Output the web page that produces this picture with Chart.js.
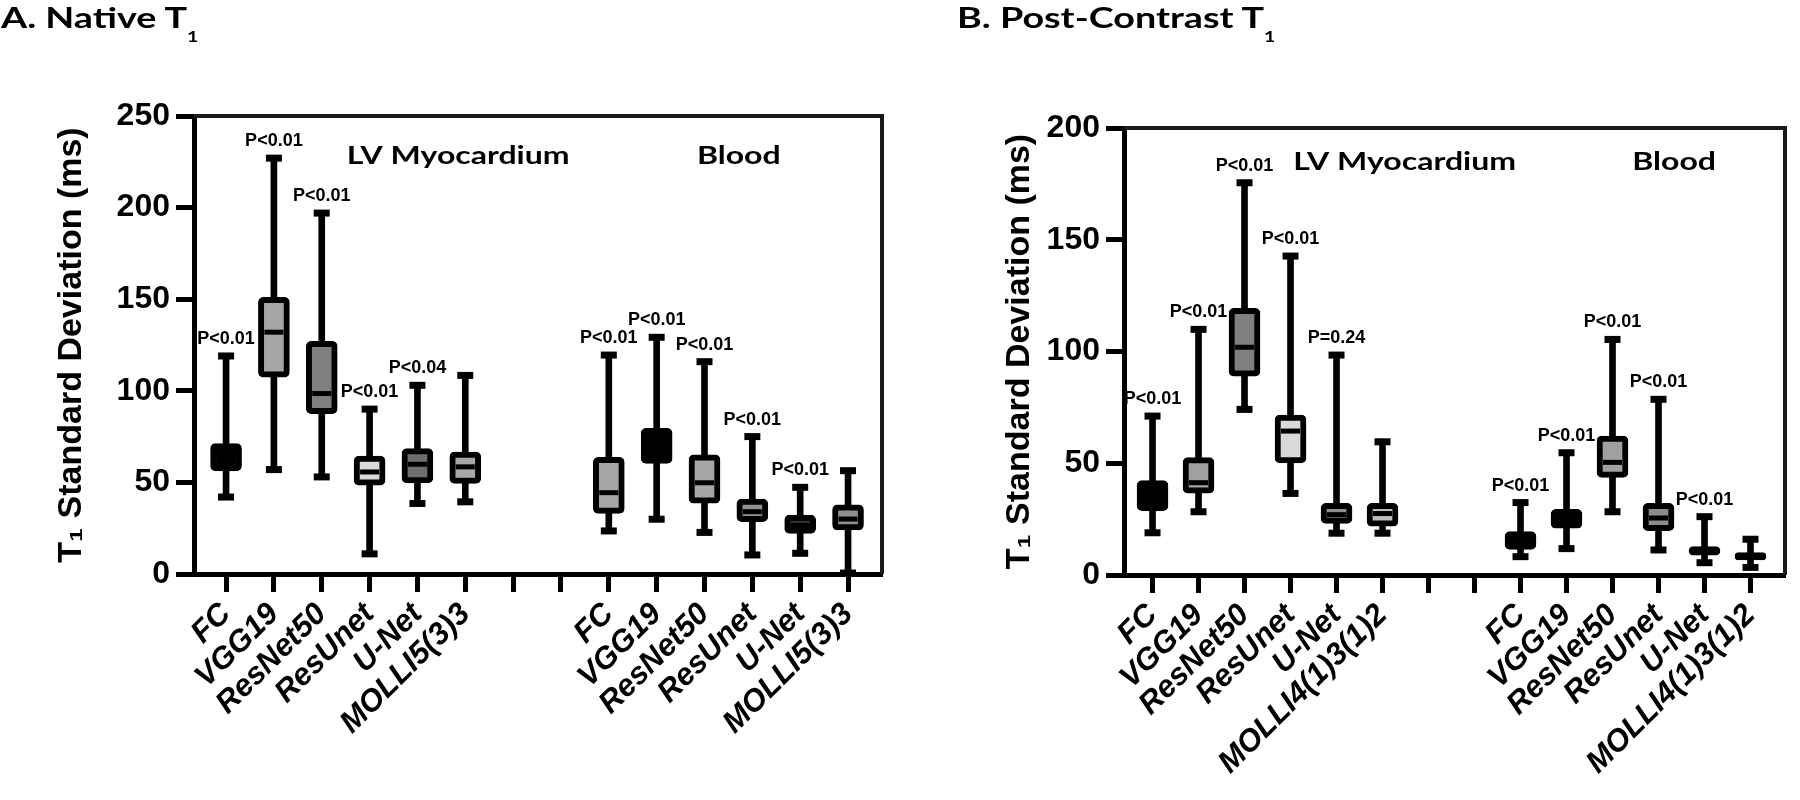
<!DOCTYPE html>
<html>
<head>
<meta charset="utf-8">
<script src="https://cdn.jsdelivr.net/npm/chart.js@4.4.1/dist/chart.umd.min.js"></script>
<style>
  body { margin: 0; background: #fff; }
  #page { position: relative; width: 1800px; height: 800px; overflow: hidden; background: #fff; }
  .panel { position: absolute; top: 0; width: 900px; height: 800px; }
  .ttl { position: absolute; top: 2px; font: bold 29px Lato, "Open Sans", sans-serif; line-height: 1;
         transform: scaleX(1.3); transform-origin: 0 0; white-space: nowrap; color: #000; }
  .ttl sub { font-size: 15px; vertical-align: -14px; }
</style>
</head>
<body>
<div id="page">
  <div class="panel" style="left:0"><canvas id="native" width="900" height="800"></canvas></div>
  <div class="panel" style="left:900px"><canvas id="post" width="900" height="800"></canvas></div>
  <div class="ttl" style="left:1px">A. Native T<sub>1</sub></div>
  <div class="ttl" style="left:957px">B. Post-Contrast T<sub>1</sub></div>
</div>
<script>
// categories (two empty slots split LV Myocardium from Blood)
var nativeLabels = ['FC', 'VGG19', 'ResNet50', 'ResUnet', 'U-Net', 'MOLLI5(3)3', '', '',
                    'FC', 'VGG19', 'ResNet50', 'ResUnet', 'U-Net', 'MOLLI5(3)3'];
var postLabels = ['FC', 'VGG19', 'ResNet50', 'ResUnet', 'U-Net', 'MOLLI4(1)3(1)2', '', '',
                  'FC', 'VGG19', 'ResNet50', 'ResUnet', 'U-Net', 'MOLLI4(1)3(1)2'];
var groupLabels = ['LV Myocardium', 'Blood'];

// A. native T1 (ms): whisker min, box q1, median, box q3, whisker max
var nativeMin = [42, 57, 53, 11, 38.5, 39.4, null, null, 23.5, 29.9, 22.7, 10.4, 11.3, 0.5];
var nativeQ1 = [56.3, 107.5, 87.5, 48.5, 49.7, 49.4, null, null, 33.1, 60.4, 38.6, 28.6, 22.2, 24];
var nativeMed = [64, 132, 98.5, 55.7, 59.9, 58.5, null, null, 44.4, 70, 49.8, 34, 26.5, 30];
var nativeQ3 = [71.2, 151, 127, 64.3, 68.4, 66.6, null, null, 63.7, 79.5, 65, 40.9, 32.2, 37.7];
var nativeMax = [119, 227, 197, 90, 103, 108.4, null, null, 119.5, 129.2, 115.9, 75, 47.3, 56.4];
var nativeP = ['P<0.01', 'P<0.01', 'P<0.01', 'P<0.01', 'P<0.04', '', '', '',
               'P<0.01', 'P<0.01', 'P<0.01', 'P<0.01', 'P<0.01', ''];
var nativeTicks = [0, 50, 100, 150, 200, 250];

// B. post-contrast T1 (ms)
var postMin = [18.9, 28.3, 74.1, 36.5, 18.7, 18.7, null, null, 8.2, 11.8, 28.3, 11.2, 5.5, 3.4];
var postQ1 = [28.8, 36.6, 89, 50.2, 23.1, 21.8, null, null, 11.5, 20.9, 43.7, 19.8, 8.9, 6.7];
var postMed = [36, 41.3, 101.9, 64.4, 27, 27.5, null, null, 16, 26, 50.4, 25.5, 11, 8.5];
var postQ3 = [42.2, 52.5, 119.3, 71.6, 32.1, 32.1, null, null, 19.4, 29.4, 62.2, 32.1, 12.7, 10];
var postMax = [71.1, 109.9, 175.5, 142.7, 98.4, 59.6, null, null, 32.4, 54.7, 105.4, 78.6, 26.1, 16];
var postP = ['P<0.01', 'P<0.01', 'P<0.01', 'P<0.01', 'P=0.24', '', '', '',
             'P<0.01', 'P<0.01', 'P<0.01', 'P<0.01', 'P<0.01', ''];
var postTicks = [0, 50, 100, 150, 200];

var ARIAL = '"Liberation Sans", Arial, sans-serif';

function points(vals) {
  var out = [];
  vals.forEach(function (v, i) { if (v !== null) out.push({ x: i, y: v }); });
  return out;
}
function spans(lo, hi) {
  var out = [];
  lo.forEach(function (v, i) { if (v !== null) out.push({ x: i, y: [v, hi[i]] }); });
  return out;
}

// draws the top/right frame, p-values and the two group headings
var decorations = {
  id: 'decorations',
  afterDatasetsDraw: function (chart) {
    var cfg = chart.options.plugins.decorations;
    var ctx = chart.ctx, a = chart.chartArea;
    var xs = chart.scales.x, ys = chart.scales.y;
    ctx.save();
    ctx.strokeStyle = '#1a1a1a';
    ctx.lineWidth = 4;
    ctx.beginPath();
    ctx.moveTo(a.left, a.top);
    ctx.lineTo(a.right, a.top);
    ctx.lineTo(a.right, a.bottom);
    ctx.stroke();

    ctx.fillStyle = '#000';
    ctx.font = 'bold 18px ' + ARIAL;
    ctx.textAlign = 'center';
    ctx.textBaseline = 'alphabetic';
    cfg.pvalues.forEach(function (p, i) {
      if (!p) return;
      ctx.fillText(p, xs.getPixelForValue(i), ys.getPixelForValue(cfg.tops[i]) - 12);
    });

    // group headings, left-anchored
    ctx.font = 'bold 25px Lato, "Open Sans", sans-serif';
    ctx.textAlign = 'left';
    ctx.textBaseline = 'middle';
    groupLabels.forEach(function (g, k) {
      var pos = cfg.groupPos[k];
      ctx.save();
      ctx.translate(a.left + pos[0] * (a.right - a.left), a.top + pos[1] * (a.bottom - a.top));
      ctx.scale(1.28, 1);
      ctx.fillText(g, 0, 0);
      ctx.restore();
    });
    ctx.restore();
  }
};

function makeChart(id, d) {
  var fills = d.fills;
  return new Chart(document.getElementById(id), {
    type: 'bar',
    data: {
      datasets: [
        { type: 'bar', data: spans(d.min, d.max), backgroundColor: '#000', borderWidth: 0,
          barThickness: 6, maxBarThickness: 6, grouped: false, order: 4 },
        { type: 'bar', data: spans(d.q1, d.q3),
          backgroundColor: function (c) { return c.raw ? fills[c.raw.x] : '#000'; },
          borderColor: '#000', borderWidth: 6, borderRadius: 5, borderSkipped: false,
          barThickness: 31, maxBarThickness: 31, grouped: false, order: 3 },
        { type: 'line', data: points(d.med), showLine: false, pointStyle: 'line',
          pointRadius: 9.5, pointBorderWidth: 5, pointBorderColor: '#000', order: 2 },
        { type: 'line', data: points(d.max), showLine: false, pointStyle: 'line',
          pointRadius: 8, pointBorderWidth: 7, pointBorderColor: '#000', order: 1 },
        { type: 'line', data: points(d.min), showLine: false, pointStyle: 'line',
          pointRadius: 8, pointBorderWidth: 7, pointBorderColor: '#000', order: 1 }
      ]
    },
    options: {
      responsive: false,
      animation: false,
      events: [],
      layout: { padding: { left: 0, right: d.padRight, top: d.top, bottom: 0 } },
      plugins: {
        legend: { display: false },
        tooltip: { enabled: false },
        decorations: { pvalues: d.p, tops: d.max, groupPos: d.groupPos }
      },
      scales: {
        x: {
          type: 'linear', min: d.xMin, max: d.xMax, offset: false,
          afterBuildTicks: function (s) { s.ticks = d.labels.map(function (l, i) { return { value: i }; }); },
          afterFit: function (s) { s.height = 800 - d.bottom; },
          ticks: {
            autoSkip: false, minRotation: 45, maxRotation: 45, padding: 4, color: '#000',
            font: { family: ARIAL, size: 31, weight: 'bold', style: 'italic' },
            callback: function (v) { return d.labels[v] || ''; }
          },
          grid: { offset: false, drawOnChartArea: false, drawTicks: true, tickLength: 18, tickWidth: 5, tickColor: '#000' },
          border: { display: true, width: 5, color: '#000' }
        },
        y: {
          min: 0, max: d.yTicks[d.yTicks.length - 1],
          afterBuildTicks: function (s) { s.ticks = d.yTicks.map(function (v) { return { value: v }; }); },
          afterFit: function (s) { s.width = d.axisLeft; },
          ticks: { padding: 6, color: '#000', font: { family: ARIAL, size: 32, weight: 'bold' } },
          grid: { drawOnChartArea: false, drawTicks: true, tickLength: 18, tickWidth: 5, tickColor: '#000' },
          border: { display: true, width: 5, color: '#000' },
          title: {
            display: true, text: 'T\u2081 Standard Deviation (ms)', color: '#000',
            font: { family: ARIAL, size: 34, weight: 'bold' },
            padding: { top: d.titlePad, bottom: 0 }
          }
        }
      }
    },
    plugins: [decorations]
  });
}

makeChart('native', {
  labels: nativeLabels, min: nativeMin, q1: nativeQ1, med: nativeMed, q3: nativeQ3, max: nativeMax,
  p: nativeP, yTicks: nativeTicks,
  fills: ['#000', '#a6a6a6', '#7f7f7f', '#d9d9d9', '#6e6e6e', '#a6a6a6', null, null,
          '#a6a6a6', '#000', '#a6a6a6', '#909090', '#333', '#909090'],
  axisLeft: 194, padRight: 18, top: 116, bottom: 574, xMin: -0.67, xMax: 13.71, titlePad: 51,
  groupPos: [[0.222, 0.087], [0.731, 0.087]]
});

makeChart('post', {
  labels: postLabels, min: postMin, q1: postQ1, med: postMed, q3: postQ3, max: postMax,
  p: postP, yTicks: postTicks,
  fills: ['#000', '#a0a0a0', '#808080', '#d9d9d9', '#909090', '#bdbdbd', null, null,
          '#000', '#000', '#a0a0a0', '#8c8c8c', '#000', '#000'],
  axisLeft: 224, padRight: 5, top: 128, bottom: 575, xMin: -0.62, xMax: 13.75, titlePad: 99,
  groupPos: [[0.256, 0.076], [0.769, 0.076]]
});
</script>
</body>
</html>
